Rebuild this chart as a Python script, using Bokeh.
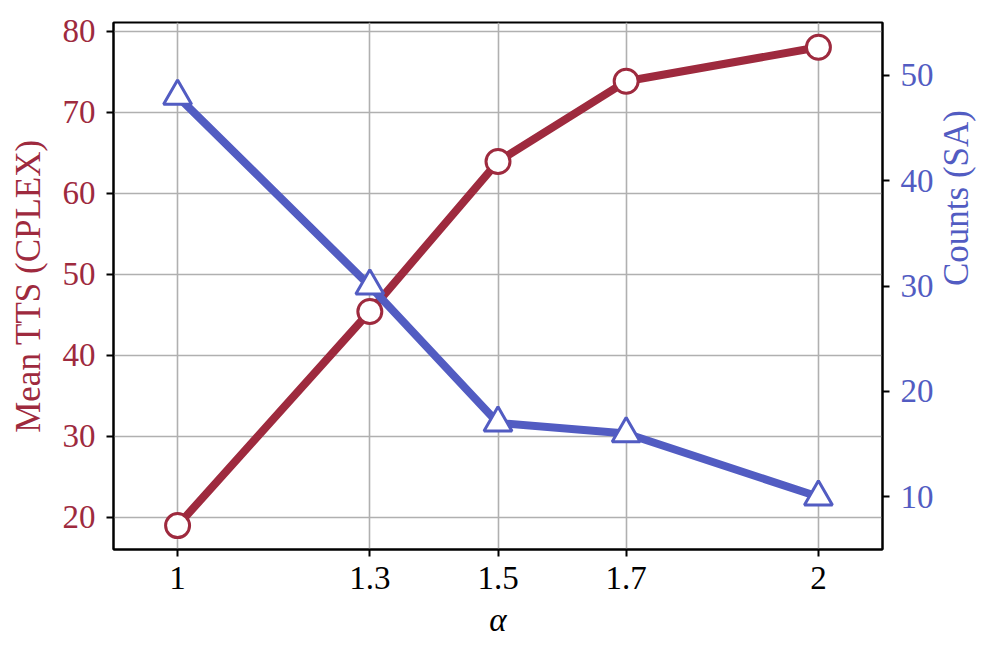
import math
from bokeh.plotting import figure
from bokeh.models import Range1d, LinearAxis, FixedTicker
from bokeh.embed import file_html
from bokeh.resources import INLINE

alpha = [1.0, 1.3, 1.5, 1.7, 2.0]
alpha_labels = ["1", "1.3", "1.5", "1.7", "2"]
mean_tts = [19.0, 45.4, 63.9, 73.8, 78.0]
counts_sa = [48, 30, 17, 16, 10]
left_ticks = [20, 30, 40, 50, 60, 70, 80]
right_ticks = [10, 20, 30, 40, 50]

RED = "#9E2A3E"
BLUE = "#525CC2"
FONT = "Liberation Serif"
FS = "33px"
LFS = "35px"

p = figure(width=998, height=656, output_backend="svg", toolbar_location=None,
           x_range=Range1d(0.9, 2.1), y_range=Range1d(16.05, 81.05),
           min_border_left=113, min_border_right=114, min_border_top=22, min_border_bottom=107)
p.extra_y_ranges = {"right": Range1d(5, 55)}

p.outline_line_color = "black"
p.outline_line_width = 2
p.outline_line_alpha = 1.0
p.background_fill_color = "white"
p.border_fill_color = "white"

# grid
p.xgrid.ticker = FixedTicker(ticks=alpha)
p.ygrid.ticker = FixedTicker(ticks=left_ticks)
for g in (p.xgrid, p.ygrid):
    g.grid_line_color = "#b0b0b0"
    g.grid_line_width = 1.6

# x axis
xa = p.xaxis[0]
xa.ticker = FixedTicker(ticks=alpha)
xa.major_label_overrides = {a: l for a, l in zip(alpha, alpha_labels)}
xa.axis_label = "α"

# left axis
ya = p.yaxis[0]
ya.ticker = FixedTicker(ticks=left_ticks)
ya.axis_label = "Mean TTS (CPLEX)"

# right axis (ticks and tick labels)
ra = LinearAxis(y_range_name="right", ticker=FixedTicker(ticks=right_ticks))
p.add_layout(ra, "right")

for ax, col in ((xa, "black"), (ya, RED), (ra, BLUE)):
    ax.axis_line_color = "black"
    ax.axis_line_width = 2
    ax.major_tick_line_color = "black"
    ax.major_tick_line_width = 2
    ax.major_tick_out = 7
    ax.major_tick_in = 0
    ax.minor_tick_line_color = None
    ax.major_label_text_font = FONT
    ax.major_label_text_font_size = FS
    ax.major_label_text_color = col
    ax.axis_label_text_font = FONT
    ax.axis_label_text_font_size = LFS
    ax.axis_label_text_font_style = "normal"
    ax.axis_label_text_color = col
    ax.major_label_standoff = 10

xa.axis_label_text_font_style = "italic"
xa.axis_label_text_font_size = FS
ya.major_label_standoff = 11
ra.major_label_standoff = 11
ya.axis_label_standoff = 12
xa.axis_label_standoff = 10

# second, tick-less right axis that only carries the title, reading
# bottom-to-top; its bounds centre the rotated text where the reference has it
ra_title = LinearAxis(y_range_name="right", ticker=FixedTicker(ticks=[]),
                      bounds=(5, 37.4), axis_label="Counts (SA)")
ra_title.axis_line_color = None
ra_title.major_tick_line_color = None
ra_title.minor_tick_line_color = None
ra_title.major_tick_out = 0
ra_title.major_tick_in = 0
ra_title.major_label_text_font_size = "0px"
ra_title.axis_label_text_font = FONT
ra_title.axis_label_text_font_size = LFS
ra_title.axis_label_text_font_style = "normal"
ra_title.axis_label_text_color = BLUE
ra_title.axis_label_standoff = 20
ra_title.axis_label_orientation = math.pi / 2
p.add_layout(ra_title, "right")

# red series
p.line(alpha, mean_tts, line_color=RED, line_width=8)
p.scatter(alpha, mean_tts, marker="circle", size=24, fill_color="white",
          line_color=RED, line_width=3)

# blue series
p.line(alpha, counts_sa, line_color=BLUE, line_width=8, y_range_name="right")
p.scatter(alpha, counts_sa, marker="triangle", size=28, fill_color="white",
          line_color=BLUE, line_width=3, y_range_name="right")

open("out.html", "w").write(file_html(p, INLINE))
